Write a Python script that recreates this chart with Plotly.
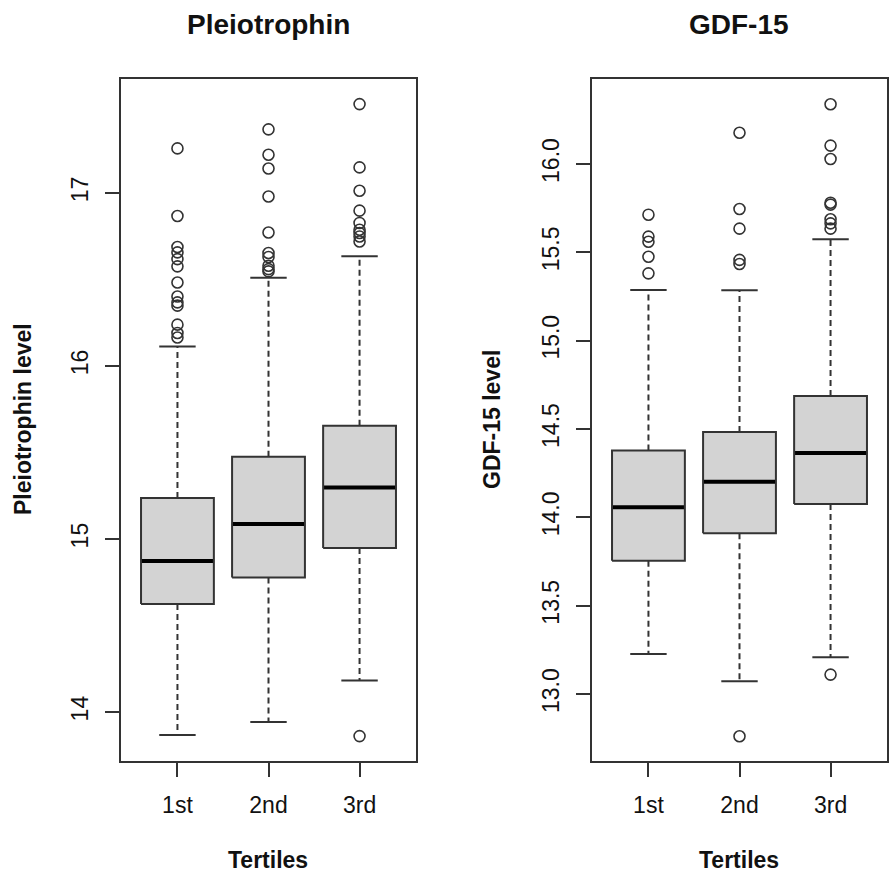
import plotly.graph_objects as go

W, H = 889, 873

categories = ["1st", "2nd", "3rd"]
cat_pos = [1, 2, 3]

# Pleiotrophin panel (five-number summaries per tertile)
pleio_lower = [13.867, 13.942, 14.183]
pleio_q1 = [14.624, 14.778, 14.948]
pleio_median = [14.873, 15.087, 15.298]
pleio_q3 = [15.237, 15.476, 15.655]
pleio_upper = [16.113, 16.510, 16.634]
pleio_outliers = [
    [17.258, 16.867, 16.688, 16.657, 16.618, 16.576, 16.483, 16.402, 16.368, 16.349, 16.239, 16.191, 16.165],
    [17.368, 17.221, 17.142, 16.980, 16.772, 16.653, 16.630, 16.580, 16.560, 16.547],
    [17.514, 17.148, 17.013, 16.898, 16.827, 16.788, 16.769, 16.749, 16.720, 13.861],
]
pleio_ticks = [14, 15, 16, 17]
pleio_range = [13.717, 17.659]

# GDF-15 panel
gdf_lower = [13.227, 13.072, 13.208]
gdf_q1 = [13.755, 13.910, 14.076]
gdf_median = [14.057, 14.202, 14.364]
gdf_q3 = [14.378, 14.483, 14.687]
gdf_upper = [15.287, 15.285, 15.574]
gdf_outliers = [
    [15.713, 15.589, 15.560, 15.475, 15.381],
    [16.177, 15.745, 15.634, 15.457, 15.434, 12.761],
    [16.338, 16.104, 16.028, 15.781, 15.770, 15.687, 15.664, 15.634, 13.110],
]
gdf_ticks = [13.0, 13.5, 14.0, 14.5, 15.0, 15.5, 16.0]
gdf_range = [12.621, 16.481]

titles = ["Pleiotrophin", "GDF-15"]
ylabels = ["Pleiotrophin level", "GDF-15 level"]
xlabel = "Tertiles"

FONT = "Liberation Sans, Arial, sans-serif"
LINE = "#333333"
FILL = "#D3D3D3"
TXT = "#111111"
BOXW = 0.4
CAPW = 0.2

fig = go.Figure()

panels = [
    (pleio_lower, pleio_q1, pleio_median, pleio_q3, pleio_upper, pleio_outliers, "x", "y"),
    (gdf_lower, gdf_q1, gdf_median, gdf_q3, gdf_upper, gdf_outliers, "x2", "y2"),
]

for lo, q1, md, q3, up, outs, xa, ya in panels:
    for i, c in enumerate(cat_pos):
        # whiskers (dashed)
        fig.add_trace(go.Scatter(x=[c, c], y=[q3[i], up[i]], mode="lines",
                                 line=dict(color=LINE, width=2, dash="6px,4px"),
                                 xaxis=xa, yaxis=ya, showlegend=False, hoverinfo="skip"))
        fig.add_trace(go.Scatter(x=[c, c], y=[q1[i], lo[i]], mode="lines",
                                 line=dict(color=LINE, width=2, dash="6px,4px"),
                                 xaxis=xa, yaxis=ya, showlegend=False, hoverinfo="skip"))
        # caps
        for v in (lo[i], up[i]):
            fig.add_trace(go.Scatter(x=[c - CAPW, c + CAPW], y=[v, v], mode="lines",
                                     line=dict(color=LINE, width=2),
                                     xaxis=xa, yaxis=ya, showlegend=False, hoverinfo="skip"))
        # box
        fig.add_trace(go.Scatter(x=[c - BOXW, c + BOXW, c + BOXW, c - BOXW, c - BOXW],
                                 y=[q1[i], q1[i], q3[i], q3[i], q1[i]],
                                 mode="lines", fill="toself", fillcolor=FILL,
                                 line=dict(color=LINE, width=2),
                                 xaxis=xa, yaxis=ya, showlegend=False, hoverinfo="skip"))
        # median
        fig.add_trace(go.Scatter(x=[c - BOXW + 0.01, c + BOXW - 0.01], y=[md[i], md[i]], mode="lines",
                                 line=dict(color="#000000", width=4),
                                 xaxis=xa, yaxis=ya, showlegend=False, hoverinfo="skip"))
        # outliers
        fig.add_trace(go.Scatter(x=[c] * len(outs[i]), y=outs[i], mode="markers",
                                 marker=dict(symbol="circle-open", size=11, color=LINE,
                                             line=dict(width=1.6, color=LINE)),
                                 xaxis=xa, yaxis=ya, showlegend=False, hoverinfo="skip"))

def px_x(p):
    return p / W

def px_y(p):
    return 1 - p / H

xdoms = [[px_x(121), px_x(416)], [px_x(592), px_x(887)]]
ydom = [px_y(761), px_y(79)]

common_x = dict(range=[0.38, 3.62], tickvals=cat_pos, ticktext=categories,
                showline=True, mirror=True, linecolor=LINE, linewidth=2,
                ticks="outside", ticklen=14, tickwidth=2, tickcolor=LINE,
                showgrid=False, zeroline=False, ticklabelstandoff=8,
                tickfont=dict(family=FONT, size=23, color=TXT))
common_y = dict(showline=True, mirror=True, linecolor=LINE, linewidth=2,
                ticks="outside", ticklen=14, tickwidth=2, tickcolor=LINE,
                showgrid=False, zeroline=False, tickangle=-90, ticklabelstandoff=8,
                tickfont=dict(family=FONT, size=23, color=TXT))

fig.update_layout(
    width=W, height=H,
    margin=dict(l=0, r=0, t=0, b=0),
    paper_bgcolor="white", plot_bgcolor="white",
    xaxis=dict(domain=xdoms[0], anchor="y", **common_x),
    xaxis2=dict(domain=xdoms[1], anchor="y2", **common_x),
    yaxis=dict(domain=ydom, anchor="x", range=pleio_range, tickvals=pleio_ticks,
               ticktext=[str(t) for t in pleio_ticks], **common_y),
    yaxis2=dict(domain=ydom, anchor="x2", range=gdf_range, tickvals=gdf_ticks,
                ticktext=[f"{t:.1f}" for t in gdf_ticks], **common_y),
)

ann = []
for (tx, ty, text, size, angle) in [
    (268, 24, titles[0], 28, 0),
    (739, 24, titles[1], 28, 0),
    (268, 860, xlabel, 23, 0),
    (739, 860, xlabel, 23, 0),
    (23, 419, ylabels[0], 23, -90),
    (492, 419, ylabels[1], 23, -90),
]:
    ann.append(dict(x=px_x(tx), y=px_y(ty), xref="paper", yref="paper", text=f"<b>{text}</b>",
                    showarrow=False, xanchor="center", yanchor="middle", textangle=angle,
                    font=dict(family=FONT, size=size, color=TXT)))
fig.update_layout(annotations=ann)

fig.write_html("out.html")
